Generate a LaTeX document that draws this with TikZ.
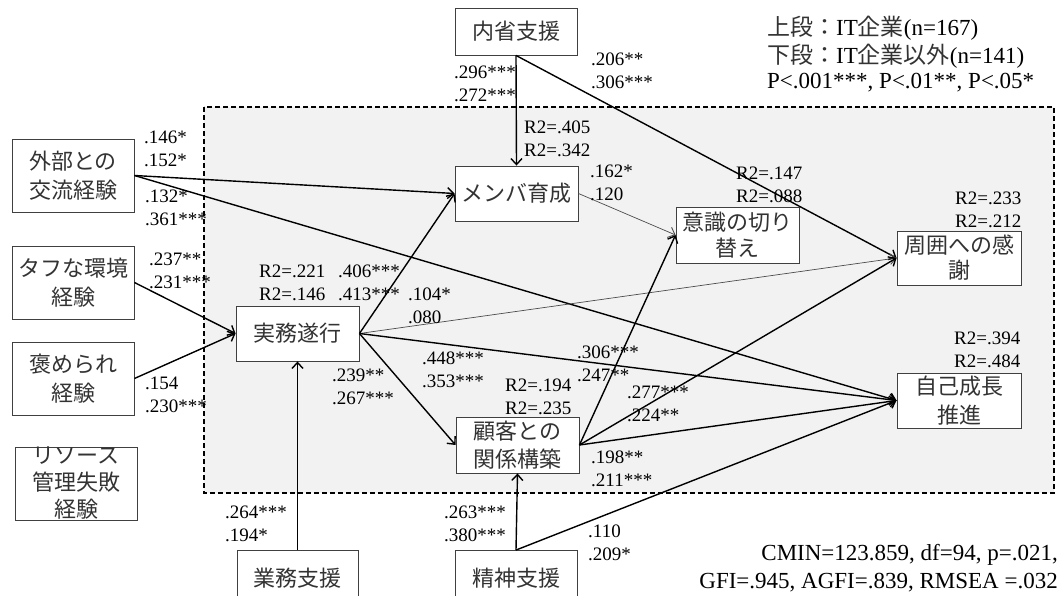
\documentclass[tikz,border=0pt]{standalone}
\usepackage{fontspec}
\setmainfont{Liberation Serif}
\newfontfamily\jp{Noto Sans CJK JP}
\usetikzlibrary{arrows.meta}
\begin{document}
\begin{tikzpicture}[x=1pt,y=-1pt,
  box/.style={draw=black!75, line width=0.9pt, fill=white, inner sep=0pt, align=center, text=black!80, font=\jp\fontsize{22}{29}\selectfont},
  jptext/.style={inner sep=0pt, align=center, text=black!80, font=\jp\fontsize{22}{27}\selectfont},
  lab/.style={inner sep=0pt, anchor=west, align=left, font=\fontsize{19}{23}\selectfont},
  leg/.style={inner sep=0pt, anchor=west, font=\fontsize{23}{27}\selectfont},
  stat/.style={inner sep=0pt, anchor=east, font=\fontsize{23}{27}\selectfont},
  arr/.style={line width=1.4pt, -{Straight Barb[length=6pt,width=11pt,line width=1.4pt]}},
  thinarr/.style={line width=0.7pt, draw=black!70, -{Straight Barb[length=6pt,width=11pt,line width=0.9pt]}},
  area/.style={dash pattern=on 5pt off 3pt, line width=1.4pt, fill=black!5}
]
\useasboundingbox (0,0) rectangle (1063,596);
\fill[white] (0,0) rectangle (1063,596);
\draw[area] (204,107) rectangle (1054,493);

% boxes
\node[box, minimum width=122pt, minimum height=73pt] (gaibu) at (73,175.5) {外部との\\交流経験};
\node[box, minimum width=122pt, minimum height=73pt] (tough) at (73,282.5) {タフな環境\\経験};
\node[box, minimum width=122pt, minimum height=73pt] (home) at (73,378.5) {褒められ\\経験};
\node[box, minimum width=122pt, minimum height=73pt] (res) at (76,483.5) {};
\node[jptext] (restext) at (res.center) {リソース\\管理失敗\\経験};
\node[box, minimum width=123pt, minimum height=55pt] (jitsumu) at (297.5,333.5) {実務遂行};
\node[box, minimum width=121pt, minimum height=55pt] (gyomu) at (297.5,578) {業務支援};
\node[box, minimum width=122pt, minimum height=47pt] (naisei) at (516,31.5) {内省支援};
\node[box, minimum width=123pt, minimum height=55pt] (member) at (516.5,193.5) {メンバ育成};
\node[box, minimum width=123pt, minimum height=56pt, font=\jp\fontsize{22}{26}\selectfont] (ishiki) at (737.5,235) {意識の切り\\替え};
\node[box, minimum width=124pt, minimum height=54pt, font=\jp\fontsize{22}{25}\selectfont] (shui) at (959,258) {周囲への感\\謝};
\node[box, minimum width=124pt, minimum height=55pt] (jiko) at (959,400.5) {自己成長\\推進};
\node[box, minimum width=123pt, minimum height=56pt, font=\jp\fontsize{22}{28}\selectfont] (kokyaku) at (517.5,445) {顧客との\\関係構築};
\node[box, minimum width=122pt, minimum height=55pt] (seishin) at (516,578) {精神支援};

% connectors
\draw[arr] (gaibu.east) -- (member.west);
\draw[arr] (gaibu.east) -- (jiko.west);
\draw[arr] (tough.east) -- (jitsumu.west);
\draw[arr] (home.east) -- (jitsumu.west);
\draw[arr] (gyomu.north) -- (jitsumu.south);
\draw[arr] (naisei.south) -- (member.north);
\draw[arr] (naisei.south) -- (shui.west);
\draw[arr] (jitsumu.east) -- (member.west);
\draw[thinarr] (jitsumu.east) -- (shui.west);
\draw[arr] (jitsumu.east) -- (jiko.west);
\draw[arr] (jitsumu.east) -- (kokyaku.west);
\draw[thinarr] (member.east) -- (ishiki.west);
\draw[arr] (kokyaku.east) -- (ishiki.west);
\draw[arr] (kokyaku.east) -- (shui.west);
\draw[arr] (kokyaku.east) -- (jiko.west);
\draw[arr] (seishin.north) -- (kokyaku.south);
\draw[arr] (seishin.north) -- (jiko.west);

% labels
\node[lab] (l1) at (144,149) {.146*\\.152*};
\node[lab] (l2) at (145,208) {.132*\\.361***};
\node[lab] (l3) at (149,271) {.237**\\.231***};
\node[lab] (l4) at (145,395) {.154\\.230***};
\node[lab] (l5) at (225,524) {.264***\\.194*};
\node[lab] (l6) at (454,83.5) {.296***\\.272***};
\node[lab] (l7) at (591,71) {.206**\\.306***};
\node[lab] (l8) at (524,139) {R2=.405\\R2=.342};
\node[lab] (l9) at (590,183) {.162*\\.120};
\node[lab] (l10) at (259,282.5) {R2=.221\\R2=.146};
\node[lab] (l11) at (338,282.5) {.406***\\.413***};
\node[lab] (l12) at (408,305.5) {.104*\\.080};
\node[lab] (l13) at (422,369.5) {.448***\\.353***};
\node[lab] (l14) at (332,387) {.239**\\.267***};
\node[lab] (l15) at (505,396.5) {R2=.194\\R2=.235};
\node[lab] (l16) at (577,363.5) {.306***\\.247**};
\node[lab] (l17) at (627,403.5) {.277***\\.224**};
\node[lab] (l18) at (591,469) {.198**\\.211***};
\node[lab] (l19) at (444,523.5) {.263***\\.380***};
\node[lab] (l20) at (588,542.5) {.110\\.209*};
\node[lab] (l21) at (736,185) {R2=.147\\R2=.088};
\node[lab] (l22) at (955,210) {R2=.233\\R2=.212};
\node[lab] (l23) at (954,350) {R2=.394\\R2=.484};

% legend
\node[leg] (lg1) at (767,28) {{\jp\color{black!80} 上段：}IT{\jp\color{black!80} 企業}(n=167)};
\node[leg] (lg2) at (767,56) {{\jp\color{black!80} 下段：}IT{\jp\color{black!80} 企業以外}(n=141)};
\node[leg] (lg3) at (767,83) {P<.001***, P<.01**, P<.05*};

% fit statistics
\node[stat] (st1) at (1058,555) {CMIN=123.859,\ df=94, p=.021,};
\node[stat] (st2) at (1058,583) {GFI=.945, AGFI=.839, RMSEA =.032};
\end{tikzpicture}
\end{document}
